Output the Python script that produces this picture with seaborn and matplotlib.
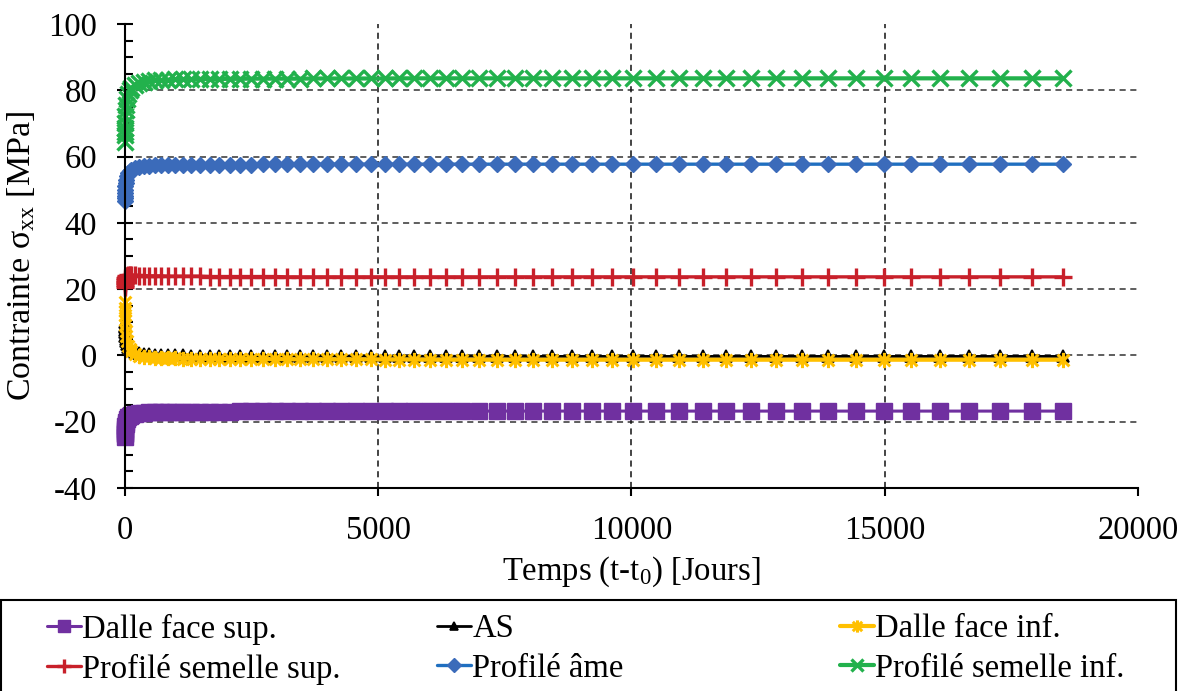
import numpy as np
import pandas as pd
import matplotlib
matplotlib.use("Agg")
import matplotlib.pyplot as plt
import seaborn as sns
from matplotlib.path import Path
from matplotlib.patches import Rectangle
from matplotlib.ticker import MultipleLocator

# ---------------- data ----------------
temps = [0, 0.5, 1, 2, 4, 8, 15, 24, 40, 68,
         95, 125, 195, 277, 370, 474, 589, 714, 849, 994,
         1149, 1313, 1487, 1670, 1862, 2064, 2275, 2495, 2723, 2960,
         3205, 3459, 3722, 3993, 4272, 4560, 4857, 5132, 5417, 5712,
         6017, 6332, 6657, 6992, 7337, 7692, 8057, 8432, 8817, 9212,
         9612, 10026, 10486, 10931, 11404, 11870, 12356, 12848, 13360, 13884,
         14429, 14980, 15525, 16096, 16673, 17277, 17900, 18524]

dalle_sup = [-24.5, -23.7, -23.3, -22.8, -22.2, -21.4, -20.7, -20.0, -19.3, -18.6,
             -18.3, -18.0, -17.6, -17.4, -17.3, -17.2, -17.15, -17.1, -17.1, -17.05,
             -17.0, -17.0, -17.0, -16.95, -16.95, -16.95, -16.9, -16.9, -16.9, -16.9,
             -16.85, -16.85, -16.85, -16.85, -16.85, -16.85, -16.85, -16.85, -16.8, -16.8,
             -16.8, -16.8, -16.8, -16.8, -16.8, -16.8, -16.8, -16.8, -16.8, -16.8,
             -16.8, -16.8, -16.8, -16.8, -16.8, -16.8, -16.8, -16.8, -16.8, -16.8,
             -16.8, -16.8, -16.8, -16.8, -16.8, -16.8, -16.8, -16.8]

as_vals = [10.0, 9.0, 8.5, 7.8, 7.0, 6.0, 5.0, 4.2, 3.3, 2.4,
           1.9, 1.5, 1.0, 0.6, 0.4, 0.3, 0.2, 0.1, 0.05, 0.0,
           0.0, -0.05, -0.05, -0.1, -0.1, -0.1, -0.15, -0.15, -0.15, -0.2,
           -0.2, -0.2, -0.2, -0.2, -0.2, -0.2, -0.25, -0.25, -0.25, -0.25,
           -0.25, -0.25, -0.25, -0.25, -0.25, -0.3, -0.3, -0.3, -0.3, -0.3,
           -0.3, -0.3, -0.3, -0.3, -0.3, -0.3, -0.3, -0.3, -0.3, -0.3,
           -0.3, -0.3, -0.3, -0.3, -0.3, -0.3, -0.3, -0.3]

dalle_inf = [16.0, 14.3, 13.4, 12.2, 10.8, 9.1, 7.4, 6.0, 4.4, 2.9,
             2.0, 1.3, 0.4, -0.1, -0.4, -0.6, -0.7, -0.8, -0.85, -0.9,
             -0.95, -1.0, -1.0, -1.05, -1.05, -1.1, -1.1, -1.1, -1.15, -1.15,
             -1.15, -1.2, -1.2, -1.2, -1.2, -1.2, -1.2, -1.25, -1.25, -1.25,
             -1.3, -1.3, -1.3, -1.3, -1.3, -1.3, -1.3, -1.3, -1.3, -1.3,
             -1.3, -1.3, -1.3, -1.3, -1.3, -1.3, -1.3, -1.3, -1.3, -1.3,
             -1.3, -1.3, -1.3, -1.3, -1.3, -1.3, -1.3, -1.3]

semelle_sup = [20.5, 21.3, 21.8, 22.3, 22.8, 23.3, 23.7, 23.9, 24.1, 24.2,
               24.2, 24.2, 24.2, 24.1, 24.1, 24.0, 24.0, 24.0, 23.9, 23.9,
               23.9, 23.9, 23.9, 23.8, 23.8, 23.8, 23.8, 23.8, 23.8, 23.8,
               23.7, 23.7, 23.7, 23.7, 23.7, 23.7, 23.7, 23.7, 23.7, 23.7,
               23.7, 23.7, 23.7, 23.7, 23.7, 23.7, 23.7, 23.7, 23.7, 23.7,
               23.7, 23.7, 23.7, 23.7, 23.7, 23.7, 23.7, 23.7, 23.7, 23.7,
               23.7, 23.7, 23.7, 23.7, 23.7, 23.7, 23.7, 23.7]

ame = [46.5, 47.6, 48.2, 49.0, 49.9, 51.0, 52.1, 53.0, 54.0, 55.0,
       55.6, 56.0, 56.6, 56.9, 57.1, 57.2, 57.3, 57.4, 57.5, 57.5,
       57.5, 57.55, 57.55, 57.6, 57.6, 57.6, 57.6, 57.6, 57.65, 57.65,
       57.7, 57.7, 57.7, 57.7, 57.7, 57.7, 57.7, 57.7, 57.7, 57.7,
       57.7, 57.7, 57.7, 57.7, 57.7, 57.7, 57.7, 57.7, 57.7, 57.7,
       57.7, 57.7, 57.7, 57.7, 57.7, 57.7, 57.7, 57.7, 57.7, 57.7,
       57.7, 57.7, 57.7, 57.7, 57.7, 57.7, 57.7, 57.7]

semelle_inf = [64.5, 66.4, 67.4, 68.7, 70.2, 72.1, 74.0, 75.6, 77.3, 79.0,
               80.0, 80.7, 81.7, 82.3, 82.6, 82.8, 83.0, 83.1, 83.2, 83.3,
               83.3, 83.35, 83.4, 83.4, 83.4, 83.45, 83.45, 83.5, 83.5, 83.5,
               83.5, 83.5, 83.55, 83.55, 83.55, 83.55, 83.55, 83.55, 83.6, 83.6,
               83.6, 83.6, 83.6, 83.6, 83.6, 83.6, 83.6, 83.6, 83.6, 83.6,
               83.6, 83.6, 83.6, 83.6, 83.6, 83.6, 83.6, 83.6, 83.6, 83.6,
               83.6, 83.6, 83.6, 83.6, 83.6, 83.6, 83.6, 83.6]

series_names = ["Dalle face sup.", "AS", "Dalle face inf.",
                "Profilé semelle sup.", "Profilé âme", "Profilé semelle inf."]
series_values = [dalle_sup, as_vals, dalle_inf, semelle_sup, ame, semelle_inf]

x_ticks = [0, 5000, 10000, 15000, 20000]
y_ticks = [-40, -20, 0, 20, 40, 60, 80, 100]

# ---------------- style ----------------
sns.set_style("ticks")
plt.rcParams["font.family"] = ["Liberation Serif", "DejaVu Serif"]
plt.rcParams["mathtext.fontset"] = "custom"
plt.rcParams["mathtext.rm"] = "Liberation Serif"
plt.rcParams["mathtext.it"] = "Liberation Serif:italic"
plt.rcParams["axes.unicode_minus"] = False
plt.rcParams["text.color"] = "black"
plt.rcParams["axes.labelcolor"] = "black"
plt.rcParams["xtick.color"] = "black"
plt.rcParams["ytick.color"] = "black"

FS = 23.5

star_marker = Path([(-1, -1), (1, 1), (-1, 1), (1, -1), (0, -1.3), (0, 1.3)],
                   [Path.MOVETO, Path.LINETO, Path.MOVETO, Path.LINETO,
                    Path.MOVETO, Path.LINETO])

styles = [
    dict(color="#7030A0", marker="s", markersize=11.5, lw=2.2, mfc="#7030A0", mec="#7030A0", mew=1),
    dict(color="black", marker="^", markersize=8, lw=2.0, mfc="black", mec="black", mew=1.2),
    dict(color="#FFC000", marker=star_marker, markersize=11, lw=3.0, mfc="none", mec="#FFC000", mew=2.2),
    dict(color="#C8202A", marker="+", markersize=13, lw=2.4, mfc="#C8202A", mec="#C8202A", mew=2.4),
    dict(color="#1F6FC0", marker="D", markersize=8.5, lw=2.4, mfc="#3B6BBA", mec="#3B6BBA", mew=1),
    dict(color="#22B14C", marker="x", markersize=11, lw=3.0, mfc="#22B14C", mec="#22B14C", mew=2.4),
]

fig = plt.figure(figsize=(11.89, 6.91), dpi=100)
ax = fig.add_axes([0.1051, 0.2938, 0.852, 0.6715])

grid_y = [-20, 0, 20, 40, 60, 80]
grid_x = [5000, 10000, 15000]
for gy in grid_y:
    ax.axhline(gy, color="#333333", lw=1.1, ls=(0, (4, 3)), zorder=0)
for gx in grid_x:
    ax.axvline(gx, color="#111111", lw=1.1, ls=(0, (4, 3)), zorder=0)

handles = []
for name, vals, st in zip(series_names, series_values, styles):
    df = pd.DataFrame({"t": temps, "v": vals})
    sns.lineplot(data=df, x="t", y="v", ax=ax, sort=False, estimator=None,
                 color=st["color"], lw=st["lw"], marker=st["marker"],
                 markersize=st["markersize"], markerfacecolor=st["mfc"],
                 markeredgecolor=st["mec"], markeredgewidth=st["mew"],
                 clip_on=False, label=name, legend=False)
    handles.append(ax.lines[-1])

ax.set_xlim(0, 20000)
ax.set_ylim(-40, 100)
ax.set_xticks(x_ticks)
ax.set_yticks(y_ticks)
ax.yaxis.set_minor_locator(MultipleLocator(5))
ax.tick_params(axis="both", labelsize=FS, colors="black")
ax.tick_params(axis="y", which="major", direction="inout", length=12, width=1.5, pad=14)
ax.tick_params(axis="y", which="minor", direction="in", length=6, width=1.5)
ax.tick_params(axis="x", which="major", direction="out", length=6, width=1.5, pad=14)
for s in ["top", "right"]:
    ax.spines[s].set_visible(False)
for s in ["left", "bottom"]:
    ax.spines[s].set_linewidth(1.5)
    ax.spines[s].set_color("black")

ax.set_xlabel(r"Temps (t-t$_{\mathregular{0}}$) [Jours]", fontsize=FS, labelpad=6)
ax.set_ylabel(r"Contrainte σ$_{\mathregular{xx}}$ [MPa]", fontsize=FS + 1, labelpad=8)

# legend box
fig.patches.append(Rectangle((0.001, -0.05), 0.988, 0.05 + 1 - 600 / 691,
                             transform=fig.transFigure, fill=False,
                             edgecolor="black", lw=1.5))
col_x = [40 / 1189, 430 / 1189, 833 / 1189]
for i, cx in enumerate(col_x):
    fig.legend(handles=[handles[i], handles[i + 3]],
               labels=[series_names[i], series_names[i + 3]],
               loc="upper left", bbox_to_anchor=(cx, 1 - 607 / 691),
               frameon=False, fontsize=FS, handlelength=1.05,
               handletextpad=0.05, labelspacing=0.28, borderaxespad=0,
               borderpad=0.2, markerscale=0.8)

fig.savefig("out.png", dpi=100)
